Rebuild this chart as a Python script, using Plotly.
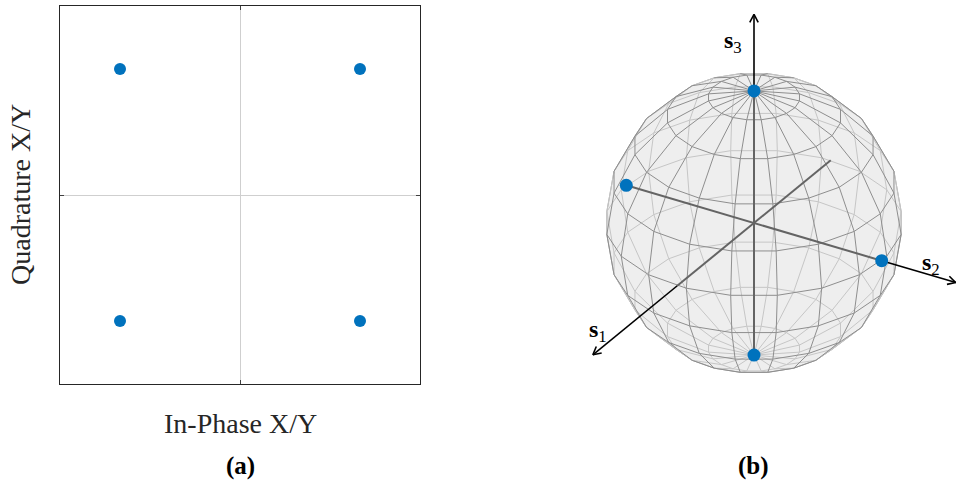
import numpy as np
import plotly.graph_objects as go

W, H = 956, 480

# ---------------- data ----------------
# Panel (a): constellation (In-Phase / Quadrature)
iq_inphase = [-1, 1, -1, 1]
iq_quadrature = [1, 1, -1, -1]
iq_axis_range = [-1.5, 1.5]

# Panel (b): Stokes vectors on the Poincare sphere
stokes_s1 = [0, 0, 0, 0]
stokes_s2 = [-1, 1, 0, 0]
stokes_s3 = [0, 0, 1, -1]

stokes_axis_labels = ["<b>s</b><sub>1</sub>", "<b>s</b><sub>2</sub>", "<b>s</b><sub>3</sub>"]
stokes_arrow_lengths = [2.1, 1.58, 1.58]

view_azimuth_deg = 31.0
view_elevation_deg = 29.0
mesh_lon_step_deg = 18.0
mesh_lat_step_deg = 18.0
mesh_lon_offset_deg = 4.0

BLUE = "#0072BD"
FONT = "Liberation Serif"

# ---------------- projection helpers ----------------
az = np.radians(view_azimuth_deg)
el = np.radians(view_elevation_deg)
v_dir = np.array([np.cos(el) * np.cos(az), np.cos(el) * np.sin(az), np.sin(el)])
r_dir = np.array([-np.sin(az), np.cos(az), 0.0])
u_dir = np.array([-np.sin(el) * np.cos(az), -np.sin(el) * np.sin(az), np.cos(el)])


def proj(p):
    p = np.asarray(p, dtype=float)
    return p @ r_dir, p @ u_dir


def sph(theta, lam):
    return np.array([np.sin(theta) * np.cos(lam), np.sin(theta) * np.sin(lam), np.cos(theta)])


# layout geometry for panel (b) (pixels)
B_X0, B_X1, B_Y0, B_Y1 = 580, 956, 0, 400
CX, CY = 754, 223
SX, SY = 149.0, 151.0
b_xrange = [(B_X0 - CX) / SX, (B_X1 - CX) / SX]
b_yrange = [(CY - B_Y1) / SY, (CY - B_Y0) / SY]

# ---------------- sphere mesh ----------------
n_lon = int(round(360 / mesh_lon_step_deg))
n_lat = int(round(180 / mesh_lat_step_deg))
lons = np.radians(mesh_lon_offset_deg + mesh_lon_step_deg * np.arange(n_lon + 1))
lats = np.radians(mesh_lat_step_deg * np.arange(n_lat + 1))

front_x, front_y, back_x, back_y = [], [], [], []


def add_seg(a, b):
    mid = (a + b) / 2
    ax_, ay_ = proj(a)
    bx_, by_ = proj(b)
    if mid @ v_dir >= 0:
        front_x.extend([ax_, bx_, None]); front_y.extend([ay_, by_, None])
    else:
        back_x.extend([ax_, bx_, None]); back_y.extend([ay_, by_, None])


for k in range(n_lon):
    for j in range(n_lat):
        add_seg(sph(lats[j], lons[k]), sph(lats[j + 1], lons[k]))
for j in range(1, n_lat):
    for k in range(n_lon):
        add_seg(sph(lats[j], lons[k]), sph(lats[j], lons[k + 1]))

# silhouette: convex hull of projected vertices
verts = np.array([proj(sph(t, l)) for t in lats for l in lons[:-1]])


def convex_hull(pts):
    pts = sorted(set(map(lambda q: (round(q[0], 9), round(q[1], 9)), pts)))

    def cross(o, a, b):
        return (a[0] - o[0]) * (b[1] - o[1]) - (a[1] - o[1]) * (b[0] - o[0])

    lower, upper = [], []
    for p in pts:
        while len(lower) >= 2 and cross(lower[-2], lower[-1], p) <= 0:
            lower.pop()
        lower.append(p)
    for p in reversed(pts):
        while len(upper) >= 2 and cross(upper[-2], upper[-1], p) <= 0:
            upper.pop()
        upper.append(p)
    return lower[:-1] + upper[:-1]


hull = convex_hull(verts)
hull.append(hull[0])
hull_x = [h[0] for h in hull]
hull_y = [h[1] for h in hull]

fig = go.Figure()

# ---------------- panel (a) ----------------
fig.add_trace(go.Scatter(
    x=iq_inphase, y=iq_quadrature, mode="markers",
    marker=dict(color=BLUE, size=12, line=dict(width=0)),
    xaxis="x", yaxis="y", showlegend=False, hoverinfo="skip"))

# ---------------- panel (b) ----------------
fig.add_trace(go.Scatter(x=hull_x, y=hull_y, mode="lines", fill="toself",
                         fillcolor="#eeeeee", line=dict(color="#a6a6a6", width=1),
                         xaxis="x2", yaxis="y2", showlegend=False, hoverinfo="skip"))
fig.add_trace(go.Scatter(x=back_x, y=back_y, mode="lines",
                         line=dict(color="#c6c6c6", width=1),
                         xaxis="x2", yaxis="y2", showlegend=False, hoverinfo="skip"))
fig.add_trace(go.Scatter(x=front_x, y=front_y, mode="lines",
                         line=dict(color="#8e8e8e", width=1),
                         xaxis="x2", yaxis="y2", showlegend=False, hoverinfo="skip"))

# inner axis lines (-1..1) and outer black arrows
basis = np.eye(3)
gx, gy, kx, ky = [], [], [], []
for i in range(3):
    e = basis[i]
    x0, y0 = proj(-e)
    x1, y1 = proj(e)
    gx.extend([x0, x1, None]); gy.extend([y0, y1, None])
    xt, yt = proj(e * stokes_arrow_lengths[i])
    kx.extend([x1, xt, None]); ky.extend([y1, yt, None])
    # arrowhead in pixel space
    dxp, dyp = (xt - x1) * SX, (yt - y1) * SY
    n = np.hypot(dxp, dyp)
    dxp, dyp = dxp / n, dyp / n
    L, ang = 9.0, np.radians(28)
    for s in (1, -1):
        ca, sa = np.cos(s * ang), np.sin(s * ang)
        rx = dxp * ca - dyp * sa
        ry = dxp * sa + dyp * ca
        kx.extend([xt - L * rx / SX, xt, None]); ky.extend([yt - L * ry / SY, yt, None])

fig.add_trace(go.Scatter(x=gx, y=gy, mode="lines", line=dict(color="#646464", width=2),
                         xaxis="x2", yaxis="y2", showlegend=False, hoverinfo="skip"))
fig.add_trace(go.Scatter(x=kx, y=ky, mode="lines", line=dict(color="black", width=1.6),
                         xaxis="x2", yaxis="y2", showlegend=False, hoverinfo="skip"))

pts = np.column_stack([stokes_s1, stokes_s2, stokes_s3])
px, py = proj(pts)
fig.add_trace(go.Scatter(x=px, y=py, mode="markers",
                         marker=dict(color=BLUE, size=13, line=dict(width=0)),
                         xaxis="x2", yaxis="y2", showlegend=False, hoverinfo="skip"))

# axis labels for s1, s2, s3
label_points = [basis[0] * 1.6, basis[1] * 1.4, basis[2] * 1.35]
label_shifts = [(-33, -8), (-2, 12), (-21, 3)]
annotations = []
for lab, lp, (xs, ys) in zip(stokes_axis_labels, label_points, label_shifts):
    lx, ly = proj(lp)
    annotations.append(dict(x=lx, y=ly, xref="x2", yref="y2", text=lab, showarrow=False,
                            xanchor="center", yanchor="middle",
                            xshift=xs, yshift=ys, font=dict(family=FONT, size=24, color="black")))

# panel titles / axis titles
annotations += [
    dict(x=240 / W, y=1 - 423 / H, xref="paper", yref="paper", text="In-Phase X/Y",
         xanchor="center", yanchor="middle",
         showarrow=False, font=dict(family=FONT, size=28, color="#262626")),
    dict(x=20 / W, y=1 - 195 / H, xref="paper", yref="paper", text="Quadrature X/Y",
         xanchor="center", yanchor="middle",
         textangle=-90, showarrow=False, font=dict(family=FONT, size=28, color="#262626")),
    dict(x=240 / W, y=1 - 466 / H, xref="paper", yref="paper", text="<b>(a)</b>",
         xanchor="center", yanchor="middle",
         showarrow=False, font=dict(family=FONT, size=25, color="black")),
    dict(x=753 / W, y=1 - 466 / H, xref="paper", yref="paper", text="<b>(b)</b>",
         xanchor="center", yanchor="middle",
         showarrow=False, font=dict(family=FONT, size=25, color="black")),
]

axis_common = dict(range=iq_axis_range, tickvals=[0], showticklabels=False, ticks="inside",
                   ticklen=4, tickcolor="#404040", tickwidth=1, showgrid=True, gridcolor="#cfcfcf",
                   gridwidth=1, zeroline=False, showline=True, linecolor="#262626", linewidth=1,
                   mirror="ticks", fixedrange=True)

fig.update_layout(
    width=W, height=H, margin=dict(l=0, r=0, t=0, b=0),
    paper_bgcolor="white", plot_bgcolor="white",
    xaxis=dict(domain=[60 / W, 420 / W], anchor="y", **axis_common),
    yaxis=dict(domain=[1 - 384 / H, 1 - 6 / H], anchor="x", **axis_common),
    xaxis2=dict(domain=[B_X0 / W, B_X1 / W], range=b_xrange, visible=False, anchor="y2",
                fixedrange=True),
    yaxis2=dict(domain=[1 - B_Y1 / H, 1 - B_Y0 / H], range=b_yrange, visible=False, anchor="x2",
                fixedrange=True),
    annotations=annotations,
    showlegend=False,
)

fig.write_html("out.html", config={"displayModeBar": False},
               post_script="document.body.style.margin='0';document.body.style.overflow='hidden';")
